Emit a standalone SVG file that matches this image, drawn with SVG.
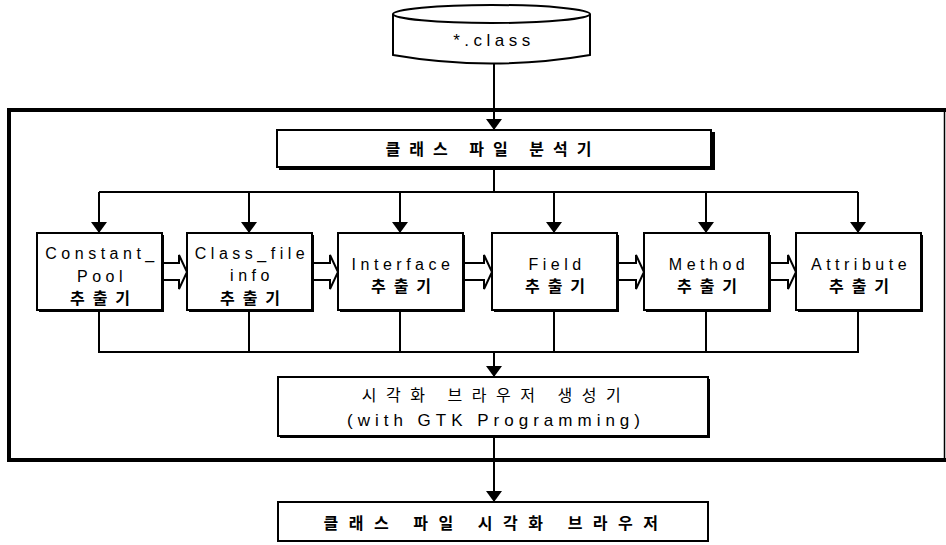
<svg xmlns="http://www.w3.org/2000/svg" width="946" height="545" viewBox="0 0 946 545">
<style>
.ln{fill:none;stroke:#000;stroke-width:2}
.box{fill:#fff;stroke:#000;stroke-width:2}
.sh{fill:#000}
.en{font-family:"Liberation Sans",Arial,sans-serif;font-size:16px;letter-spacing:4.5px;fill:#000;text-anchor:middle}
.ko{font-family:"Noto Sans CJK KR","Noto Sans",sans-serif;font-size:16px;font-weight:bold;letter-spacing:8px;fill:#000;text-anchor:middle}
.hol{fill:#fff;stroke:#000;stroke-width:2;stroke-linejoin:miter}
</style>
<defs>
<marker id="ah" viewBox="0 0 11 16" refX="11" refY="8" markerWidth="11" markerHeight="16" markerUnits="userSpaceOnUse" orient="auto">
<path d="M0,0 L11,8 L0,16 z" fill="#000"/>
</marker>
</defs>
<rect width="946" height="545" fill="#fff"/>

<g id="frame">
<path d="M9,460 L9,110 L946,110" fill="none" stroke="#000" stroke-width="4"/>
<line x1="7" y1="460" x2="946" y2="460" stroke="#000" stroke-width="4"/>
<line x1="944.5" y1="110" x2="944.5" y2="460" stroke="#000" stroke-width="1.5"/>
</g>

<g id="connectors">
<path class="ln" d="M494,63 L494,130" marker-end="url(#ah)"/>
<path class="ln" d="M494,168 L494,192"/>
<path class="ln" d="M99,192 L858,192"/>
<path class="ln" d="M99,192 L99,233" marker-end="url(#ah)"/>
<path class="ln" d="M249,192 L249,233" marker-end="url(#ah)"/>
<path class="ln" d="M400,192 L400,233" marker-end="url(#ah)"/>
<path class="ln" d="M554,192 L554,233" marker-end="url(#ah)"/>
<path class="ln" d="M706,192 L706,233" marker-end="url(#ah)"/>
<path class="ln" d="M858,192 L858,233" marker-end="url(#ah)"/>
<path class="ln" d="M99,310 L99,352 M249,310 L249,352 M400,310 L400,352 M554,310 L554,352 M706,310 L706,352 M858,310 L858,352 M98,352 L859,352"/>
<path class="ln" d="M494,352 L494,377" marker-end="url(#ah)"/>
<path class="ln" d="M494,437 L494,502" marker-end="url(#ah)"/>
<polygon class="hol" points="163,263 179,263 179,255 187,272 179,289 179,280 163,280"/>
<polygon class="hol" points="313,263 330,263 330,255 338,272 330,289 330,280 313,280"/>
<polygon class="hol" points="464,263 484,263 484,255 492,272 484,289 484,280 464,280"/>
<polygon class="hol" points="618,263 636,263 636,255 644,272 636,289 636,280 618,280"/>
<polygon class="hol" points="770,263 788,263 788,255 796,272 788,289 788,280 770,280"/>
</g>

<g id="class-file">
<path d="M393,14 L393,55 Q491,72 590,55 L590,14" fill="#fff" stroke="#000" stroke-width="2"/>
<ellipse cx="491.5" cy="14" rx="98.5" ry="9" fill="#fff" stroke="#000" stroke-width="2"/>
<text x="494" y="46" class="en" style="font-size:17px">*.class</text>
</g>

<g id="analyzer">
<rect class="sh" x="279" y="132" width="436" height="38"/>
<rect class="box" x="277" y="130" width="434" height="37"/>
<text x="493" y="155" class="ko" style="letter-spacing:9px">클래스 파일 분석기</text>
</g>

<g id="constant-pool">
<rect class="sh" x="39" y="235" width="125" height="77"/>
<rect class="box" x="37" y="233" width="125" height="77"/>
<text x="102" y="259" class="en">Constant_</text>
<text x="102" y="282" class="en">Pool</text>
<text x="104" y="304" class="ko">추출기</text>
</g>

<g id="class-file-info">
<rect class="sh" x="189" y="235" width="125" height="77"/>
<rect class="box" x="187" y="233" width="125" height="77"/>
<text x="252" y="259" class="en">Class_file</text>
<text x="252" y="281" class="en">info</text>
<text x="254" y="304" class="ko">추출기</text>
</g>

<g id="interface">
<rect class="sh" x="340" y="235" width="125" height="77"/>
<rect class="box" x="338" y="233" width="125" height="77"/>
<text x="403" y="270" class="en">Interface</text>
<text x="405" y="292" class="ko">추출기</text>
</g>

<g id="field">
<rect class="sh" x="494" y="235" width="125" height="77"/>
<rect class="box" x="492" y="233" width="125" height="77"/>
<text x="557" y="270" class="en">Field</text>
<text x="559" y="292" class="ko">추출기</text>
</g>

<g id="method">
<rect class="sh" x="646" y="235" width="125" height="77"/>
<rect class="box" x="644" y="233" width="125" height="77"/>
<text x="709" y="270" class="en">Method</text>
<text x="711" y="292" class="ko">추출기</text>
</g>

<g id="attribute">
<rect class="sh" x="798" y="235" width="125" height="77"/>
<rect class="box" x="796" y="233" width="125" height="77"/>
<text x="861" y="270" class="en">Attribute</text>
<text x="863" y="292" class="ko">추출기</text>
</g>

<g id="generator">
<rect class="sh" x="280" y="379" width="430" height="59"/>
<rect class="box" x="278" y="377" width="430" height="59"/>
<text x="496" y="401" class="ko" style="font-weight:normal;letter-spacing:9.5px">시각화 브라우저 생성기</text>
<text x="496" y="426" class="en" style="font-size:17px;letter-spacing:5px">(with GTK Programming)</text>
</g>

<g id="browser">
<rect class="box" x="278" y="502" width="430" height="39"/>
<text x="496" y="529" class="ko" style="letter-spacing:10.5px">클래스 파일 시각화 브라우저</text>
</g>
</svg>
